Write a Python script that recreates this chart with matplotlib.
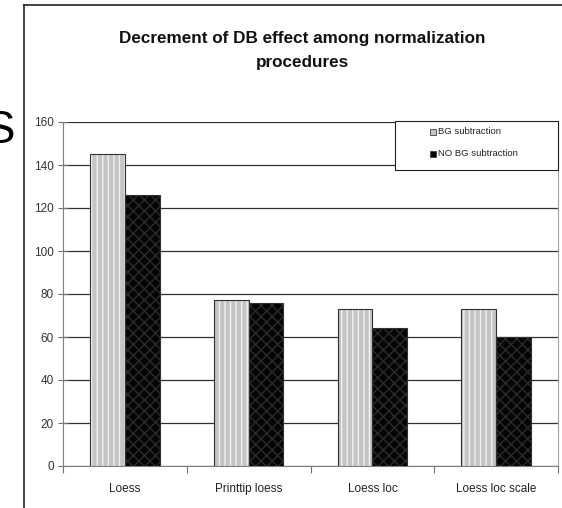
import numpy as np
import matplotlib.pyplot as plt
from matplotlib.lines import Line2D
from matplotlib.patches import Rectangle

plt.rcParams['font.family'] = ['Liberation Sans', 'DejaVu Sans']
plt.rcParams['hatch.linewidth'] = 1.0

# valores
categorias = ['Loess', 'Printtip loess', 'Loess loc', 'Loess loc scale']
bg_sub = [145, 77, 73, 73]
no_bg_sub = [126, 76, 64, 60]
series = ['BG subtraction', 'NO BG subtraction']
yticks = [0, 20, 40, 60, 80, 100, 120, 140, 160]

W, H = 562, 508
fig = plt.figure(figsize=(W / 100, H / 100), dpi=100)
ax = fig.add_axes([63 / W, 42 / H, 495 / W, 344 / H])

x = np.arange(len(categorias)) + 0.5
larg = 0.28

estilos = [dict(color='#c4c4c4', hatch='|||', edgecolor='#f0f0f0'),
           dict(color='#050505', hatch='xxx', edgecolor='#2c2c2c')]

# barras com listras verticais (BG) e padrão escuro (NO BG)
for off, vals, est in [(-larg / 2, bg_sub, estilos[0]),
                       (larg / 2, no_bg_sub, estilos[1])]:
    ax.bar(x + off, vals, larg, linewidth=0, zorder=3, **est)
    ax.bar(x + off, vals, larg, fill=False, edgecolor='#303030',
           linewidth=0.8, zorder=4)

ax.set_xlim(0, len(categorias))
ax.set_ylim(0, 160)
ax.set_yticks(yticks)
ax.set_xticks(np.arange(len(categorias) + 1))
ax.set_xticklabels([])
ax.set_xticks(x, minor=True)
ax.set_xticklabels(categorias, minor=True)
ax.tick_params(axis='x', which='minor', length=0, pad=12,
               labelsize=8.5, labelcolor='#222222')
ax.tick_params(axis='x', which='major', direction='out', length=5,
               color='#707070')
ax.tick_params(axis='y', direction='inout', length=7, color='#707070',
               labelsize=8.5, labelcolor='#333333', pad=3)

ax.yaxis.grid(True, color='#303030', linewidth=0.9, zorder=1)
for s in ['left', 'bottom']:
    ax.spines[s].set_color('#808080')
ax.spines['top'].set_visible(False)
ax.spines['right'].set_color('#a0a0a0')
ax.spines['right'].set_linewidth(0.8)

# legenda desenhada à mão, em pixels da figura
def px(xp, yp):
    return xp / W, 1 - yp / H

fig.add_artist(Rectangle(px(395, 170), 163 / W, 49 / H, facecolor='white',
                         edgecolor='#202020', linewidth=0.8,
                         transform=fig.transFigure, zorder=6))
for i, (nome, est) in enumerate(zip(series, estilos)):
    yc = 132 + 22 * i
    fig.add_artist(Rectangle(px(430, yc + 3), 6 / W, 6 / H,
                             facecolor=est['color'], edgecolor='#404040',
                             linewidth=0.6, transform=fig.transFigure,
                             zorder=7))
    fig.text(*px(438, yc), nome, ha='left', va='center', fontsize=6.8,
             color='#222222', zorder=7)

fig.text(*px(302, 51),
         'Decrement of DB effect among normalization\nprocedures',
         ha='center', va='center', fontsize=12.3, fontweight='bold',
         linespacing=1.75, color='#111111')

# moldura do slide e letra cortada à esquerda
fig.add_artist(Line2D([24 / W, 24 / W], [0, 1 - 5 / H], color='#222222',
                      linewidth=1.2, transform=fig.transFigure))
fig.add_artist(Line2D([24 / W, 1], [1 - 5 / H, 1 - 5 / H], color='#222222',
                      linewidth=1.2, transform=fig.transFigure))
fig.text(*px(15, 131), 'S', ha='right', va='center', fontsize=33,
         color='black')

fig.savefig('out.png', dpi=100)
